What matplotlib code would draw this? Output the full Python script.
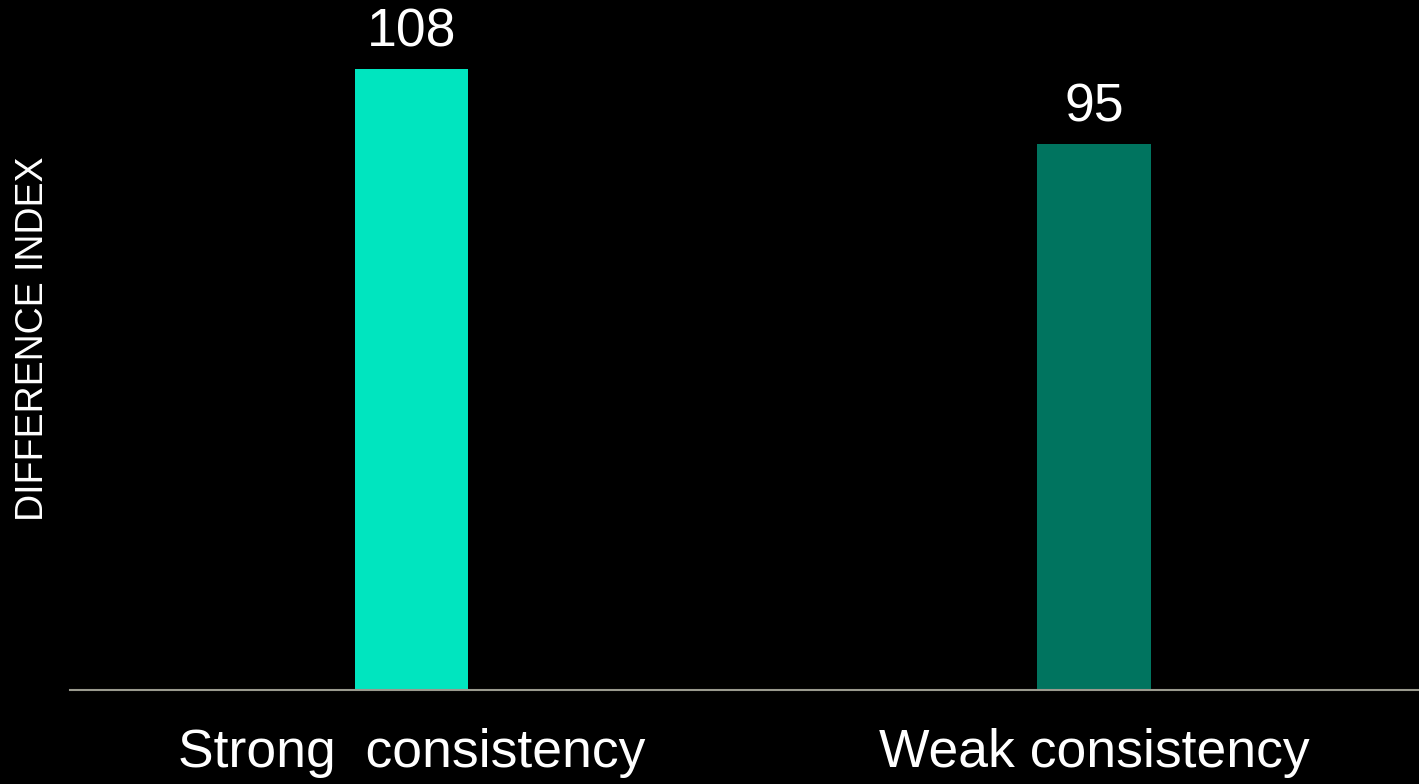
import matplotlib.pyplot as plt

categories = ["Strong  consistency", "Weak consistency"]
values = [108, 95]
colors = ["#00e5bf", "#00745f"]

plt.rcParams["font.family"] = ["Liberation Sans", "DejaVu Sans"]

fig = plt.figure(figsize=(14.19, 7.84), dpi=100, facecolor="black")
ax = fig.add_axes([70 / 1419, 94 / 784, 1349 / 1419, 690 / 784], facecolor="black")

x = range(len(categories))
bars = ax.bar(x, values, width=0.166, color=colors)

for rect, v in zip(bars, values):
    ax.annotate(str(v), (rect.get_x() + rect.get_width() / 2, v),
                xytext=(0, 16), textcoords="offset points",
                ha="center", va="baseline", color="white", fontsize=38.5)

ax.set_xlim(-0.5, 1.476)
ax.set_ylim(0, 120)
ax.set_xticks(list(x))
ax.set_xticklabels(categories, fontsize=38.5, color="white")
ax.tick_params(axis="x", length=0, pad=27)
ax.set_yticks([])

for side in ["top", "right", "left"]:
    ax.spines[side].set_visible(False)
ax.spines["bottom"].set_color("#9a9a8e")
ax.spines["bottom"].set_linewidth(1.5)

fig.text(33 / 1419, 1 - 339 / 784, "DIFFERENCE INDEX", rotation=90,
         ha="center", va="center", color="white", fontsize=27)

fig.savefig("out.png", dpi=100, facecolor="black")
